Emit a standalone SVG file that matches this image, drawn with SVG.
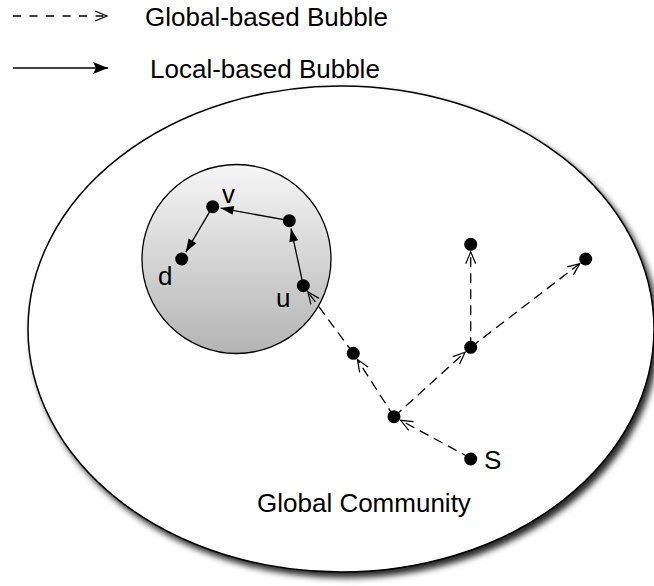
<svg xmlns="http://www.w3.org/2000/svg" width="654" height="586" viewBox="0 0 654 586">
<style>
text{font-family:"Liberation Sans",Arial,Helvetica,sans-serif;font-size:26px;fill:#000}
.dash{stroke:#000;stroke-width:1.3;fill:none;stroke-dasharray:10,6;marker-end:url(#open)}
.solid{stroke:#000;stroke-width:1.3;fill:none;marker-end:url(#filled)}
.node{fill:#000}
</style>
<defs>
<marker id="open" markerUnits="userSpaceOnUse" markerWidth="14" markerHeight="12" refX="12" refY="5" orient="auto" overflow="visible">
<path d="M0,0 L12,5 L0,10" fill="none" stroke="#000" stroke-width="1.2"/>
</marker>
<marker id="filled" markerUnits="userSpaceOnUse" markerWidth="14" markerHeight="12" refX="13" refY="4.5" orient="auto" overflow="visible">
<path d="M0,0 L13,4.5 L0,9 z" fill="#000"/>
</marker>
<marker id="legendFilled" markerUnits="userSpaceOnUse" markerWidth="18" markerHeight="14" refX="15" refY="6" orient="auto" overflow="visible">
<path d="M0,0 L15,6 L0,12 L3,6 z" fill="#000"/>
</marker>
<linearGradient id="bubbleGrad" x1="0" y1="0" x2="0" y2="1">
<stop offset="0" stop-color="#f6f6f6"/>
<stop offset="1" stop-color="#b4b4b4"/>
</linearGradient>
<filter id="shadow" x="-10%" y="-10%" width="125%" height="125%">
<feDropShadow dx="4" dy="5" stdDeviation="3" flood-color="#000" flood-opacity="0.85"/>
</filter>
</defs>
<rect width="654" height="586" fill="#fff"/>

<g id="legend">
<line x1="13" y1="16" x2="107" y2="16" stroke="#000" stroke-width="1.3" stroke-dasharray="8,8.5" marker-end="url(#open)"/>
<text x="145" y="26">Global-based Bubble</text>
<line x1="13" y1="68" x2="108" y2="68" stroke="#000" stroke-width="1.4" marker-end="url(#legendFilled)"/>
<text x="150" y="78">Local-based Bubble</text>
</g>

<g id="global-community">
<ellipse cx="341" cy="329" rx="313" ry="243" fill="#fff" stroke="#000" stroke-width="1.5" filter="url(#shadow)"/>
<text x="257" y="512">Global Community</text>
</g>

<g id="local-community">
<circle cx="236.5" cy="259" r="94.5" fill="url(#bubbleGrad)" stroke="#000" stroke-width="1.3"/>
</g>

<g id="connectors">
<line class="dash" x1="470.7" y1="458.3" x2="400.6" y2="420.3"/>
<line class="dash" x1="394" y1="416.7" x2="357.4" y2="359.6"/>
<line class="dash" x1="353.3" y1="353.3" x2="307.8" y2="291.7"/>
<line class="dash" x1="394" y1="416.7" x2="465.1" y2="352.3"/>
<line class="dash" x1="470.7" y1="347.3" x2="470.7" y2="251.8"/>
<line class="dash" x1="470.7" y1="347.3" x2="579.8" y2="263.6"/>
<line class="solid" x1="303.3" y1="285.7" x2="291.0" y2="228.5"/>
<line class="solid" x1="289.3" y1="220.7" x2="220.6" y2="208.1"/>
<line class="solid" x1="212.7" y1="206.7" x2="185.8" y2="252.1"/>
</g>

<g id="node-v"><circle class="node" cx="212.7" cy="206.7" r="6.5"/><text x="222" y="203">v</text></g>
<g id="node-w"><circle class="node" cx="289.3" cy="220.7" r="6.5"/></g>
<g id="node-d"><circle class="node" cx="181.7" cy="259" r="6.5"/><text x="158" y="285">d</text></g>
<g id="node-u"><circle class="node" cx="303.3" cy="285.7" r="6.5"/><text x="276" y="307">u</text></g>
<g id="node-m"><circle class="node" cx="353.3" cy="353.3" r="6.5"/></g>
<g id="node-h"><circle class="node" cx="394" cy="416.7" r="6.5"/></g>
<g id="node-s"><circle class="node" cx="470.7" cy="459" r="6.5"/><text x="484" y="469">S</text></g>
<g id="node-r"><circle class="node" cx="470.7" cy="347.3" r="6.5"/></g>
<g id="node-t"><circle class="node" cx="470.7" cy="244.3" r="6.5"/></g>
<g id="node-f"><circle class="node" cx="585.7" cy="259" r="6.5"/></g>
</svg>
